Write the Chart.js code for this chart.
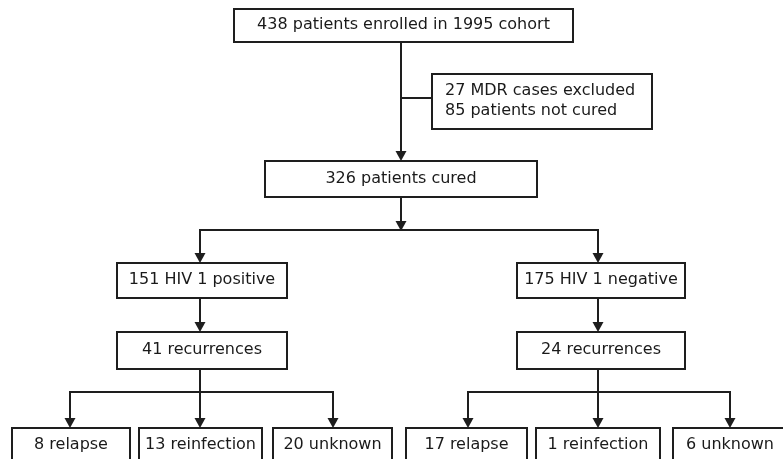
<!DOCTYPE html>
<html>
<head>
<meta charset="utf-8">
<script src="https://cdn.jsdelivr.net/npm/chart.js@4/dist/chart.umd.min.js"></script>
<style>
  html, body { margin: 0; padding: 0; background: #ffffff; }
  #wrap { width: 783px; height: 459px; overflow: hidden; }
</style>
</head>
<body>
<div id="wrap"><canvas id="c" width="783" height="459"></canvas></div>
<script>
// ---- data ----
const counts = [438, 326, 151, 175, 41, 24, 8, 13, 20, 17, 1, 6];
const descriptions = [
  "patients enrolled in 1995 cohort", "patients cured",
  "HIV 1 positive", "HIV 1 negative",
  "recurrences", "recurrences",
  "relapse", "reinfection", "unknown",
  "relapse", "reinfection", "unknown"
];
const parents = [-1, 0, 1, 1, 2, 3, 4, 4, 4, 5, 5, 5];
const excludedCounts = [27, 85];
const excludedLabels = ["MDR cases excluded", "patients not cured"];

// ---- layout (in axis units; axes span the canvas) ----
const boxes = [
  [234, 9, 573, 42],
  [265, 161, 537, 197],
  [117, 263, 287, 298],
  [517, 263, 685, 298],
  [117, 332, 287, 369],
  [517, 332, 685, 369],
  [12, 428, 130, 480],
  [139, 428, 262, 480],
  [273, 428, 392, 480],
  [406, 428, 527, 480],
  [536, 428, 660, 480],
  [673, 428, 787, 480]
];
const anchorX = [401, 401, 200, 598, 200, 598, 70, 200, 333, 468, 598, 730];
const textY = [25, 179, 280, 280, 350, 350, 445, 445, 445, 445, 445, 445];
const branchY = {1: 230, 4: 392, 5: 392};
const branchHead = {1: true, 4: false, 5: false};
const sideBox = [432, 74, 652, 129];
const sideJoinY = 98;

const INK = '#1e1e1e';
const FONT = '16px "DejaVu Sans", sans-serif';

const flowPlugin = {
  id: 'flow',
  afterDatasetsDraw(chart) {
    const ctx = chart.ctx;
    const xs = chart.scales.x, ys = chart.scales.y;
    const X = v => xs.getPixelForValue(v);
    const Y = v => ys.getPixelForValue(v);
    ctx.save();
    ctx.strokeStyle = INK;
    ctx.fillStyle = INK;
    ctx.lineWidth = 2;
    ctx.lineCap = 'butt';

    function line(x1, y1, x2, y2) {
      ctx.beginPath();
      ctx.moveTo(X(x1), Y(y1));
      ctx.lineTo(X(x2), Y(y2));
      ctx.stroke();
    }
    function arrow(x, y1, y2) {
      const tip = Y(y2), px = X(x);
      ctx.beginPath();
      ctx.moveTo(px, Y(y1));
      ctx.lineTo(px, tip - 8);
      ctx.stroke();
      ctx.beginPath();
      ctx.moveTo(px - 5.5, tip - 10);
      ctx.lineTo(px + 5.5, tip - 10);
      ctx.lineTo(px, tip);
      ctx.closePath();
      ctx.fill();
    }
    function rect(b) {
      ctx.strokeRect(X(b[0]), Y(b[1]), X(b[2]) - X(b[0]), Y(b[3]) - Y(b[1]));
    }
    const cx = b => (b[0] + b[2]) / 2;

    // boxes
    boxes.forEach(rect);
    rect(sideBox);

    // connectors
    const children = {};
    parents.forEach((p, i) => { if (p >= 0) (children[p] = children[p] || []).push(i); });
    Object.keys(children).forEach(k => {
      const p = +k, kids = children[p];
      const pb = boxes[p];
      if (kids.length === 1) {
        const kb = boxes[kids[0]];
        arrow(anchorX[kids[0]], pb[3], kb[1]);
      } else {
        const by = branchY[p];
        const px = anchorX[p];
        if (branchHead[p]) arrow(px, pb[3], by + 1);
        else line(px, pb[3], px, by);
        const kxs = kids.map(i => anchorX[i]);
        line(Math.min(...kxs) - 1, by, Math.max(...kxs) + 1, by);
        kids.forEach(i => arrow(anchorX[i], by, boxes[i][1]));
      }
    });
    // side branch to exclusions
    line(anchorX[1], sideJoinY, sideBox[0], sideJoinY);

    // text
    ctx.font = FONT;
    ctx.fillStyle = '#1a1a1a';
    ctx.textBaseline = 'middle';
    ctx.textAlign = 'center';
    counts.forEach((n, i) => {
      ctx.fillText(n + ' ' + descriptions[i], X(cx(boxes[i])), Y(textY[i]));
    });
    ctx.textAlign = 'left';
    excludedCounts.forEach((n, i) => {
      ctx.fillText(n + ' ' + excludedLabels[i], X(sideBox[0] + 13), Y(91 + i * 20));
    });
    ctx.restore();
  }
};

new Chart(document.getElementById('c'), {
  type: 'scatter',
  data: {
    datasets: [{
      data: counts.map((n, i) => ({ x: anchorX[i], y: textY[i] })),
      pointRadius: 0,
      showLine: false
    }]
  },
  options: {
    responsive: false,
    animation: false,
    devicePixelRatio: 1,
    layout: { padding: 0 },
    plugins: { legend: { display: false }, tooltip: { enabled: false } },
    scales: {
      x: { type: 'linear', min: 0, max: 783, display: false },
      y: { type: 'linear', min: 0, max: 459, reverse: true, display: false }
    }
  },
  plugins: [flowPlugin]
});
</script>
</body>
</html>
